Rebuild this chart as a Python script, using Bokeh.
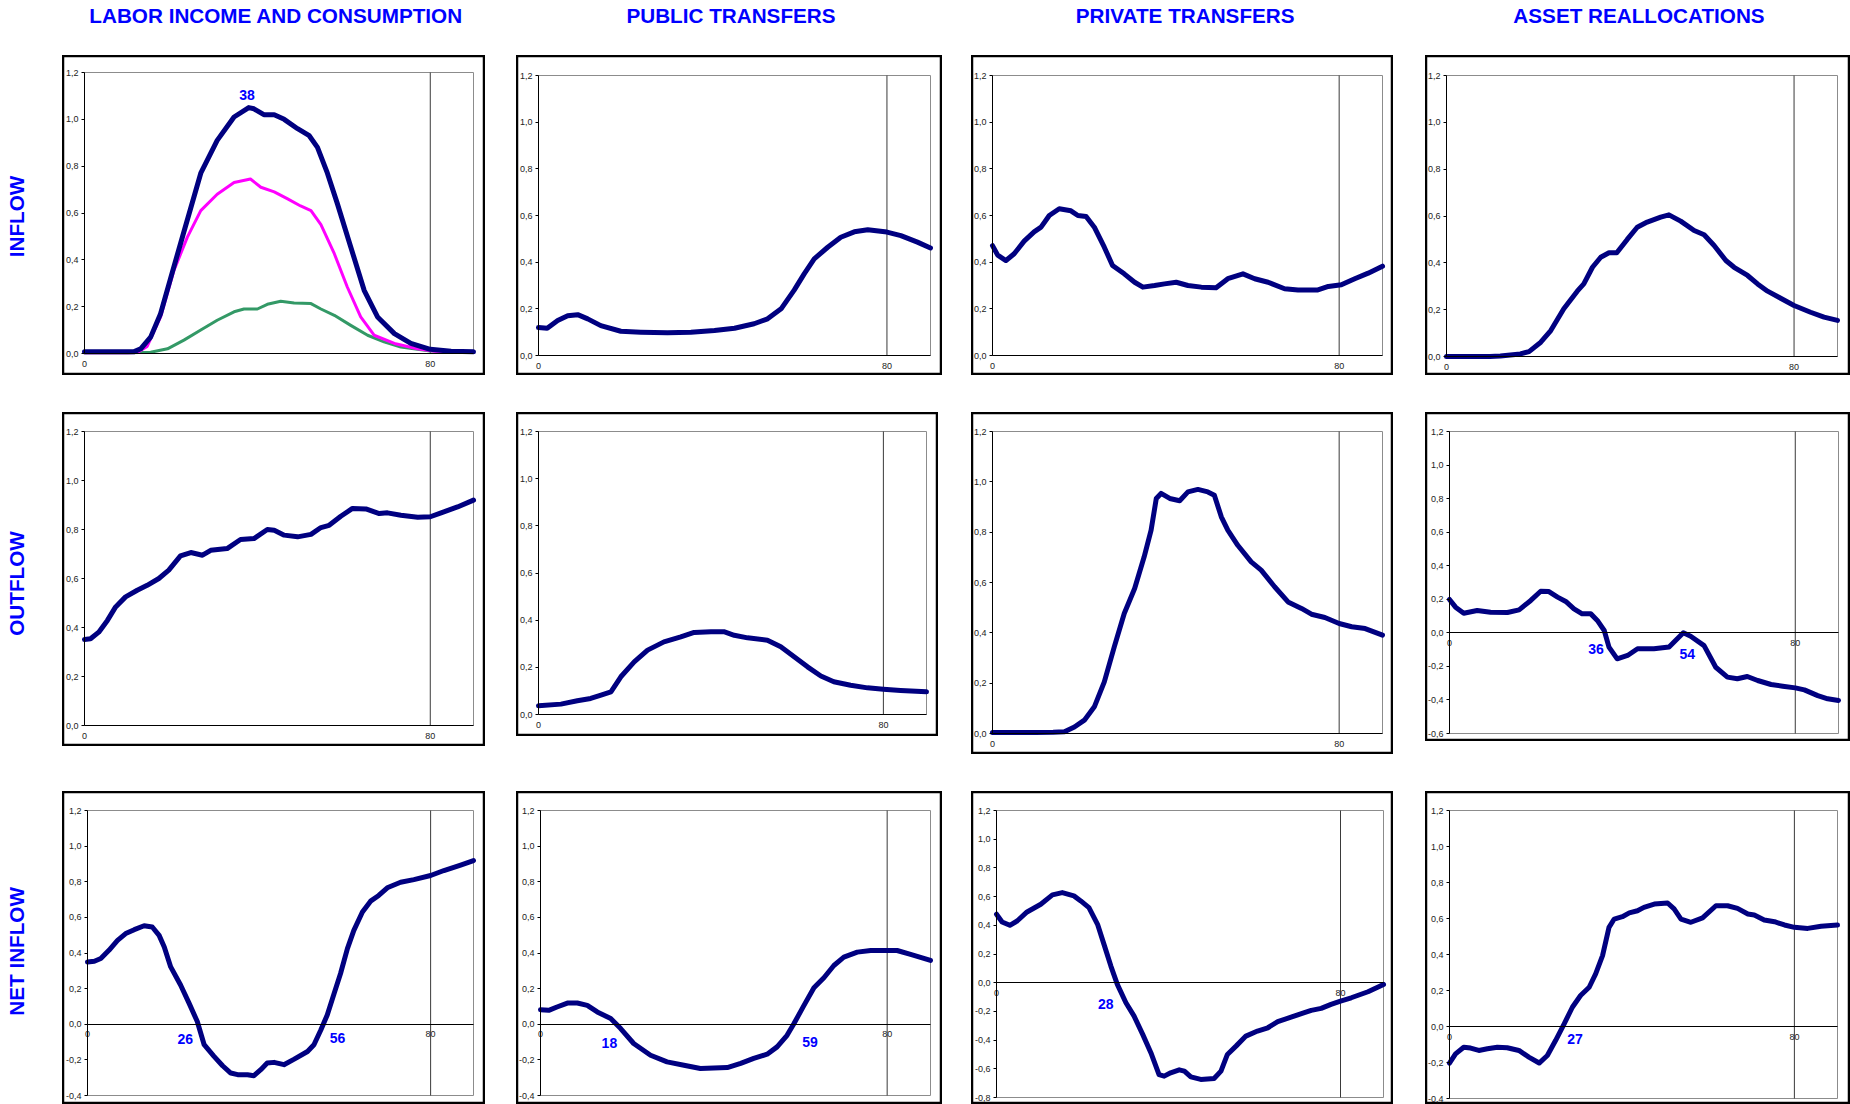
import numpy as np
from bokeh.plotting import figure
from bokeh.layouts import row, column
from bokeh.models import Range1d, FixedTicker, CustomJSTickFormatter, Label, Spacer, LinearAxis
from bokeh.embed import file_html
from bokeh.resources import INLINE

FONT = "Liberation Sans"
BLUE = "#0000FF"
NAVY = "#000080"
MAGENTA = "#FF00FF"
GREEN = "#339966"
TICK_FONT_SIZE = "9px"

COL_TITLES = ["LABOR INCOME AND CONSUMPTION", "PUBLIC TRANSFERS", "PRIVATE TRANSFERS", "ASSET REALLOCATIONS"]
ROW_TITLES = ["INFLOW", "OUTFLOW", "NET  INFLOW"]
X_TICKS = [0, 80]
AGE_MAX = 90
AGE_MARK = 80

# ---------------- data (age, value) ----------------
lab_in_age = [0, 5, 10, 11.5, 13, 15.3, 17.6, 19.9, 23, 26.9, 30.7, 34.6, 38, 39.2, 41.5, 43.9, 46.2, 49.3, 52, 53.9,
              56.2, 58.5, 61.6, 64.7, 67.8, 71.7, 75.5, 80, 84.8, 90]
lab_in_total = [0.007, 0.007, 0.007, 0.008, 0.02, 0.07, 0.17, 0.32, 0.52, 0.77, 0.91, 1.01, 1.05, 1.045, 1.02, 1.02,
                1.0, 0.96, 0.93, 0.88, 0.77, 0.64, 0.455, 0.27, 0.156, 0.085, 0.043, 0.018, 0.01, 0.007]

lab_in_mag_age = [0, 5, 10, 12.2, 14.5, 17.6, 20.7, 23.8, 26.9, 30.7, 34.6, 38.4, 40.8, 43.9, 47, 50, 52.4, 54.7, 57.8,
                  60.8, 63.9, 67, 71.7, 77, 81, 90]
lab_in_mag = [0.003, 0.003, 0.003, 0.004, 0.03, 0.156, 0.355, 0.497, 0.61, 0.68, 0.73, 0.745, 0.71, 0.69, 0.66, 0.63,
              0.61, 0.55, 0.426, 0.284, 0.156, 0.078, 0.043, 0.02, 0.01, 0.004]

lab_in_grn_age = [0, 10, 15.3, 19.2, 23, 26.9, 30.7, 34.6, 36.9, 40, 42.3, 45.4, 48.5, 52.4, 54.7, 57.8, 61.6, 65.5,
                  69.3, 73.2, 80, 90]
lab_in_grn = [0.003, 0.003, 0.005, 0.02, 0.057, 0.1, 0.142, 0.178, 0.19, 0.19, 0.21, 0.223, 0.216, 0.213, 0.19, 0.163,
              0.12, 0.078, 0.05, 0.028, 0.011, 0.004]

pub_in_age = [0, 2, 4.4, 6.7, 9, 11.3, 14.3, 18.9, 23.5, 29.6, 35, 40.4, 45, 49.5, 52.6, 55.7, 58.7, 61, 63.3, 66.4,
              69.4, 72.5, 75.6, 80, 83.2, 87, 90]
pub_in = [0.12, 0.117, 0.15, 0.17, 0.175, 0.157, 0.128, 0.104, 0.1, 0.097, 0.1, 0.107, 0.117, 0.136, 0.157, 0.2, 0.28,
          0.35, 0.414, 0.464, 0.507, 0.53, 0.539, 0.529, 0.514, 0.486, 0.461]

prv_in_age = [0, 1.2, 3.1, 5, 7.3, 9.6, 11.2, 13.1, 15.4, 18.1, 19.7, 21.6, 23.5, 25.8, 27.7, 30.4, 32.8, 34.7, 37.4,
              39.7, 42.4, 45.1, 48.2, 51.6, 54.3, 57.8, 60.5, 63.6, 67.4, 70.5, 75.1, 77.5, 80.5, 83.6, 86.7, 90]
prv_in = [0.471, 0.43, 0.407, 0.436, 0.49, 0.53, 0.55, 0.6, 0.629, 0.62, 0.6, 0.596, 0.55, 0.464, 0.386, 0.35, 0.314,
          0.293, 0.3, 0.307, 0.314, 0.3, 0.293, 0.29, 0.329, 0.35, 0.329, 0.314, 0.286, 0.281, 0.281, 0.296, 0.303,
          0.329, 0.353, 0.383]

ast_in_age = [0, 5, 10, 12.4, 17, 19, 21.7, 24, 27, 30.1, 31.6, 33.6, 35.5, 37.4, 39.2, 41.6, 43.9, 46.2, 49.3, 51.2,
              53.9, 57, 59.3, 61.6, 64.3, 66.2, 69.3, 71.6, 73.9, 76.5, 80, 83.8, 86.9, 90]
ast_in = [0.0, 0.0, 0.0, 0.002, 0.011, 0.021, 0.061, 0.111, 0.204, 0.279, 0.31, 0.381, 0.424, 0.443, 0.443, 0.5, 0.552,
          0.574, 0.595, 0.605, 0.578, 0.538, 0.52, 0.474, 0.41, 0.381, 0.346, 0.31, 0.279, 0.253, 0.218, 0.189, 0.168,
          0.154]

lab_out_age = [0, 1.4, 3.3, 5.3, 7.2, 9.5, 12.2, 14.5, 17.2, 19.5, 22.2, 24.6, 27.3, 29.2, 33, 36.1, 39.2, 42.3, 43.9,
               46.2, 49.3, 52.4, 54.7, 56.6, 59.3, 62, 65.1, 68.2, 70.1, 73.2, 77.1, 80, 82.5, 86.3, 90]
lab_out = [0.351, 0.354, 0.381, 0.429, 0.484, 0.525, 0.552, 0.572, 0.6, 0.634, 0.692, 0.706, 0.695, 0.715, 0.722,
           0.759, 0.763, 0.8, 0.797, 0.777, 0.77, 0.78, 0.808, 0.817, 0.854, 0.886, 0.884, 0.865, 0.868, 0.858, 0.85,
           0.852, 0.868, 0.892, 0.92]

pub_out_age = [0, 5.2, 9, 12.1, 14.5, 16.8, 19.1, 22.2, 25.3, 29.1, 33, 36.1, 40, 43, 45.4, 48.5, 53.1, 56.2, 59.3,
               62.4, 65.5, 68.5, 72.4, 76.3, 80, 84, 90]
pub_out = [0.037, 0.044, 0.058, 0.068, 0.082, 0.096, 0.16, 0.223, 0.273, 0.308, 0.329, 0.348, 0.351, 0.351, 0.336,
           0.325, 0.315, 0.287, 0.245, 0.202, 0.163, 0.139, 0.124, 0.113, 0.107, 0.102, 0.096]

prv_out_age = [0, 5, 10, 14, 16.6, 18.9, 21.2, 23.5, 25.8, 28.1, 30.4, 32.8, 35, 36.6, 37.8, 38.9, 40.9, 43.2, 45.1,
               47.4, 49.7, 51.2, 52.8, 54.3, 56.6, 59.7, 62, 65.1, 68.2, 71.3, 73.6, 76.7, 80, 82.9, 86, 90]
prv_out = [0.004, 0.004, 0.004, 0.005, 0.007, 0.026, 0.053, 0.106, 0.205, 0.344, 0.477, 0.576, 0.702, 0.808, 0.934,
           0.954, 0.934, 0.925, 0.96, 0.97, 0.96, 0.947, 0.861, 0.808, 0.748, 0.682, 0.649, 0.583, 0.523, 0.497,
           0.474, 0.461, 0.437, 0.424, 0.417, 0.391]

ast_out_age = [0, 1.4, 3.3, 6.4, 9.5, 13.4, 16.1, 18.8, 21.1, 23, 25, 26.9, 28.8, 30.7, 32.7, 34.2, 35.8, 36.9, 38.8,
               41.2, 43.5, 47.3, 50.8, 52.3, 54.1, 55.8, 58.9, 61.6, 64.3, 66.6, 68.9, 71.3, 74.4, 77.1, 80, 82.1,
               85.2, 87.5, 90]
ast_out = [0.199, 0.153, 0.117, 0.133, 0.123, 0.121, 0.137, 0.193, 0.248, 0.246, 0.213, 0.187, 0.143, 0.113, 0.113,
           0.074, 0.014, -0.085, -0.155, -0.135, -0.095, -0.095, -0.085, -0.046, 0.0, -0.02, -0.076, -0.205, -0.264,
           -0.274, -0.26, -0.284, -0.308, -0.318, -0.328, -0.34, -0.374, -0.393, -0.403]

lab_net_age = [0, 1.6, 3.1, 5, 7, 8.9, 10.9, 13.2, 15.1, 16.7, 17.9, 19.4, 21.7, 23.7, 25.6, 27.2, 29.5, 31.5, 33.4,
               35, 37.3, 38.8, 40.4, 41.9, 43.5, 45.8, 48.2, 51.3, 52.8, 54.4, 55.9, 57.5, 59, 60.6, 62.1, 64.1, 66,
               67.9, 69.9, 73, 76.1, 80, 83.1, 87, 90]
lab_net = [0.35, 0.354, 0.369, 0.415, 0.471, 0.509, 0.531, 0.553, 0.546, 0.499, 0.434, 0.322, 0.22, 0.117, 0.015,
           -0.115, -0.18, -0.233, -0.274, -0.283, -0.283, -0.289, -0.255, -0.218, -0.214, -0.227, -0.196, -0.153,
           -0.115, -0.032, 0.052, 0.173, 0.285, 0.425, 0.527, 0.63, 0.691, 0.723, 0.766, 0.797, 0.812, 0.835, 0.863,
           0.894, 0.919]

pub_net_age = [0, 1.9, 3.8, 6.2, 8.5, 10.8, 13.1, 16.2, 18.5, 21.5, 25.4, 29.2, 33.1, 36.9, 43.1, 46.2, 49.2, 52.3,
               54.6, 56.9, 58.5, 60.8, 63.1, 65.4, 67.7, 70, 73.1, 76.2, 80, 82.3, 85.4, 90]
pub_net = [0.082, 0.078, 0.097, 0.119, 0.119, 0.106, 0.069, 0.032, -0.024, -0.108, -0.174, -0.211, -0.23, -0.248,
           -0.243, -0.22, -0.192, -0.168, -0.127, -0.062, 0.004, 0.106, 0.205, 0.261, 0.33, 0.377, 0.405, 0.414,
           0.414, 0.414, 0.392, 0.358]

prv_net_age = [0, 1.3, 3.1, 4.8, 7.1, 10.3, 13, 15.3, 18, 19.6, 21.5, 23.5, 25, 26.6, 28.1, 30.1, 32, 34, 35.9, 37.8,
               39, 40.5, 42.5, 43.7, 45.2, 47.5, 50.6, 52.2, 53.7, 55.7, 58, 60.7, 63.1, 65.4, 68.5, 71.6, 73.2, 75.5,
               77.8, 80, 82.5, 86.4, 90]
prv_net = [0.477, 0.423, 0.4, 0.43, 0.493, 0.547, 0.612, 0.628, 0.605, 0.57, 0.523, 0.407, 0.267, 0.116, -0.012,
           -0.14, -0.233, -0.36, -0.488, -0.64, -0.651, -0.628, -0.607, -0.616, -0.656, -0.674, -0.667, -0.616, -0.5,
           -0.442, -0.372, -0.337, -0.314, -0.272, -0.24, -0.209, -0.193, -0.179, -0.151, -0.128, -0.105, -0.063,
           -0.012]

ast_net_age = [0, 1.4, 3.3, 4.9, 6.8, 8.8, 11.1, 13.4, 16.1, 18.4, 20.8, 22.7, 24.6, 26.6, 28.5, 30.4, 32.4, 33.9,
               35.5, 37, 38.2, 40.1, 41.7, 43.6, 45.1, 47.5, 50.6, 52.1, 53.7, 56, 58.7, 61.8, 64.5, 66.8, 69.2, 70.7,
               73, 75.4, 77.7, 80, 83.1, 86.2, 90]
ast_net = [-0.203, -0.152, -0.115, -0.12, -0.133, -0.124, -0.115, -0.118, -0.133, -0.17, -0.203, -0.161, -0.078,
           0.015, 0.107, 0.172, 0.218, 0.292, 0.394, 0.551, 0.597, 0.61, 0.631, 0.643, 0.662, 0.68, 0.686, 0.653,
           0.597, 0.579, 0.603, 0.671, 0.671, 0.656, 0.625, 0.62, 0.592, 0.582, 0.564, 0.551, 0.545, 0.557, 0.564]

# crossing / peak annotations: (text, age, value)
notes_lab_in = [("38", 37.6, 1.105)]
notes_ast_out = [("36", 33.9, -0.095), ("54", 55.0, -0.125)]
notes_lab_net = [("26", 22.8, -0.08), ("56", 58.3, -0.075)]
notes_pub_net = [("18", 15.9, -0.107), ("59", 62.2, -0.10)]
notes_prv_net = [("28", 25.4, -0.146)]
notes_ast_net = [("27", 29.1, -0.072)]


def make_panel(box, inner, yr, series, notes):
    """box / inner: (left, top, right, bottom) in page pixels; the figure covers the box,
    the ranges are widened so that [0, AGE_MAX] x [ymin, ymax] falls on the inner plot area."""
    bx0, by0, bx1, by1 = box
    ix0, iy0, ix1, iy1 = inner
    ymin, ymax = yr
    bw, bh = bx1 - bx0, by1 - by0
    ppx = (ix1 - ix0) / AGE_MAX
    ppy = (iy1 - iy0) / (ymax - ymin)
    xr = Range1d(-(ix0 - bx0) / ppx, AGE_MAX + (bx1 - ix1) / ppx)
    yrng = Range1d(ymin - (by1 - iy1) / ppy, ymax + (iy0 - by0) / ppy)

    p = figure(width=bw, height=bh, x_range=xr, y_range=yrng, output_backend="svg",
               toolbar_location=None, x_axis_type=None, y_axis_type=None, min_border=0)
    p.xgrid.visible = False
    p.ygrid.visible = False
    p.outline_line_color = "black"
    p.outline_line_width = 3.5
    p.background_fill_color = "white"
    p.border_fill_color = "white"

    # grey plot-area frame and the age-80 marker
    p.quad(left=[0], right=[AGE_MAX], bottom=[ymin], top=[ymax], fill_color=None,
           line_color="#8c8c8c", line_width=1)
    p.segment(x0=[AGE_MARK], y0=[ymin], x1=[AGE_MARK], y1=[ymax], line_color="#3a3a3a", line_width=1)

    for xs, ys, color, w in series:
        p.line(xs, ys, line_color=color, line_width=w, line_join="round", line_cap="round")

    xa = LinearAxis(fixed_location=0, bounds=(0, AGE_MAX), ticker=FixedTicker(ticks=X_TICKS))
    xa.major_tick_out = 0
    xa.major_tick_in = 0
    xa.minor_tick_out = 0
    xa.minor_tick_in = 0
    xa.axis_line_color = "black"
    xa.axis_line_width = 1
    xa.major_label_standoff = 7
    xa.major_label_text_font = FONT
    xa.major_label_text_font_size = TICK_FONT_SIZE
    xa.major_label_text_color = "#222222"
    p.add_layout(xa, "below")

    n = int(round((ymax - ymin) / 0.2))
    ya = LinearAxis(fixed_location=0, bounds=(ymin, ymax),
                    ticker=FixedTicker(ticks=[round(ymin + 0.2 * i, 1) for i in range(n + 1)]),
                    formatter=CustomJSTickFormatter(code="return tick.toFixed(1).replace('.', ',');"))
    ya.major_tick_out = 3
    ya.major_tick_in = 0
    ya.minor_tick_out = 0
    ya.minor_tick_in = 0
    ya.axis_line_color = "black"
    ya.axis_line_width = 1
    ya.major_label_standoff = 3
    ya.major_label_text_font = FONT
    ya.major_label_text_font_size = TICK_FONT_SIZE
    ya.major_label_text_color = "#222222"
    p.add_layout(ya, "left")

    for t, lx, ly in notes:
        p.add_layout(Label(x=lx, y=ly, text=t, text_font=FONT, text_font_style="bold",
                           text_font_size="14px", text_color=BLUE, text_align="center",
                           text_baseline="middle"))
    return p


def title_fig(w, text, cx):
    p = figure(width=w, height=55, x_range=Range1d(0, w), y_range=Range1d(55, 0),
               output_backend="svg", toolbar_location=None, x_axis_type=None, y_axis_type=None,
               min_border=0)
    p.outline_line_color = None
    p.xgrid.visible = False
    p.ygrid.visible = False
    p.add_layout(Label(x=cx, y=15, text=text, text_font=FONT, text_font_style="bold",
                       text_font_size="20.7px", text_color=BLUE, text_align="center",
                       text_baseline="middle"))
    return p


# left label strip (page coordinates)
left = figure(width=62, height=1104, x_range=Range1d(0, 62), y_range=Range1d(1104, 0),
              output_backend="svg", toolbar_location=None, x_axis_type=None, y_axis_type=None, min_border=0)
left.outline_line_color = None
left.xgrid.visible = False
left.ygrid.visible = False
for t, cy in zip(ROW_TITLES, [216, 583, 948]):
    left.add_layout(Label(x=15.8, y=cy, text=t, angle=np.pi / 2, text_font=FONT, text_font_style="bold",
                          text_font_size="20.7px", text_color=BLUE, text_align="center",
                          text_baseline="middle"))

NAV = lambda a, v: (a, v, NAVY, 5)

c1 = column(
    title_fig(423, COL_TITLES[0], 213.6),
    make_panel((62, 55, 485, 375), (84, 72, 473, 353), (0, 1.2),
               [(lab_in_grn_age, lab_in_grn, GREEN, 3), (lab_in_mag_age, lab_in_mag, MAGENTA, 3),
                NAV(lab_in_age, lab_in_total)], notes_lab_in),
    Spacer(width=1, height=37),
    make_panel((62, 412, 485, 746), (84, 431, 473, 725), (0, 1.2), [NAV(lab_out_age, lab_out)], []),
    Spacer(width=1, height=45),
    make_panel((62, 791, 485, 1104), (87, 810, 473, 1095), (-0.4, 1.2), [NAV(lab_net_age, lab_net)],
               notes_lab_net),
)
c2 = column(
    title_fig(426, COL_TITLES[1], 214.5),
    make_panel((516, 55, 942, 375), (538, 75, 930, 355), (0, 1.2), [NAV(pub_in_age, pub_in)], []),
    Spacer(width=1, height=37),
    make_panel((516, 412, 938, 736), (538, 431, 926, 714), (0, 1.2), [NAV(pub_out_age, pub_out)], []),
    Spacer(width=1, height=55),
    make_panel((516, 791, 942, 1104), (540, 810, 930, 1095), (-0.4, 1.2), [NAV(pub_net_age, pub_net)],
               notes_pub_net),
)
c3 = column(
    title_fig(422, COL_TITLES[2], 213.7),
    make_panel((971, 55, 1393, 375), (992, 75, 1382, 355), (0, 1.2), [NAV(prv_in_age, prv_in)], []),
    Spacer(width=1, height=37),
    make_panel((971, 412, 1393, 754), (992, 431, 1382, 733), (0, 1.2), [NAV(prv_out_age, prv_out)], []),
    Spacer(width=1, height=37),
    make_panel((971, 791, 1393, 1104), (996, 810, 1383, 1097), (-0.8, 1.2), [NAV(prv_net_age, prv_net)],
               notes_prv_net),
)
c4 = column(
    title_fig(425, COL_TITLES[3], 213.5),
    make_panel((1425, 55, 1850, 375), (1446, 75, 1837, 356), (0, 1.2), [NAV(ast_in_age, ast_in)], []),
    Spacer(width=1, height=37),
    make_panel((1425, 412, 1850, 741), (1449, 431, 1838, 733), (-0.6, 1.2), [NAV(ast_out_age, ast_out)],
               notes_ast_out),
    Spacer(width=1, height=50),
    make_panel((1425, 791, 1850, 1104), (1449, 810, 1837, 1098), (-0.4, 1.2), [NAV(ast_net_age, ast_net)],
               notes_ast_net),
)

layout = row(left, c1, Spacer(width=31, height=1), c2, Spacer(width=29, height=1), c3,
             Spacer(width=32, height=1), c4)

open("out.html", "w").write(file_html(layout, INLINE))
